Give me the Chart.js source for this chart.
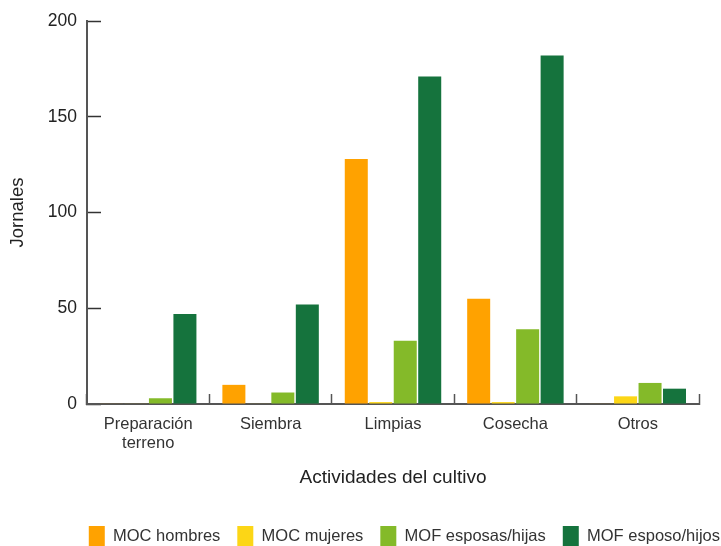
<!DOCTYPE html>
<html>
<head>
<meta charset="utf-8">
<script src="https://cdn.jsdelivr.net/npm/chart.js@4.4.1/dist/chart.umd.min.js"></script>
<style>
  html, body { margin: 0; padding: 0; background: #ffffff; overflow: hidden; }
  #wrap { width: 721px; height: 546px; position: relative; }
</style>
</head>
<body>
<div id="wrap"><canvas id="chart"></canvas></div>
<script>
// Jornales por actividad del cultivo
const categories = [['Preparación', 'terreno'], 'Siembra', 'Limpias', 'Cosecha', 'Otros'];
const mocHombres = [0.3, 10, 128, 55, 0.3];
const mocMujeres = [0.3, 0.3, 1, 1, 4];
const mofEsposasHijas = [3, 6, 33, 39, 11];
const mofEsposoHijos = [47, 52, 171, 182, 8];
const yTicks = [0, 50, 100, 150, 200];

const seriesNames = ['MOC hombres', 'MOC mujeres', 'MOF esposas/hijas', 'MOF esposo/hijos'];
const seriesColors = ['#FFA200', '#FCD616', '#84BA29', '#15733D'];
const seriesValues = [mocHombres, mocMujeres, mofEsposasHijas, mofEsposoHijos];

const FONT = "'Liberation Sans', Arial, sans-serif";
const AXIS = '#555555';

new Chart(document.getElementById('chart'), {
  type: 'bar',
  data: {
    labels: categories,
    datasets: seriesNames.map((name, i) => ({
      label: name,
      data: seriesValues[i],
      backgroundColor: seriesColors[i],
      borderWidth: 0,
      barPercentage: 0.94,
      categoryPercentage: 0.8
    }))
  },
  options: {
    responsive: true,
    maintainAspectRatio: false,
    animation: false,
    devicePixelRatio: 1,
    layout: { padding: { top: 21, right: -16, bottom: -10, left: 0 } },
    plugins: {
      tooltip: { enabled: false },
      legend: {
        position: 'bottom',
        align: 'end',
        labels: {
          boxWidth: 16,
          boxHeight: 20,
          padding: 17,
          color: '#333333',
          font: { family: FONT, size: 16.5 }
        }
      }
    },
    scales: {
      x: {
        offset: true,
        grid: {
          display: true,
          offset: true,
          drawOnChartArea: false,
          tickLength: -10,
          tickColor: AXIS,
          tickWidth: 1.5,
          color: AXIS
        },
        border: { display: true, color: AXIS, width: 2 },
        ticks: {
          padding: 21,
          color: '#333333',
          font: { family: FONT, size: 16.5, lineHeight: 1.15 }
        },
        title: {
          display: true,
          text: 'Actividades del cultivo',
          color: '#222222',
          font: { family: FONT, size: 19 },
          padding: { top: 10, bottom: 19.5 }
        },
        afterFit(scale) { scale.height = 105; }
      },
      y: {
        min: 0,
        max: 200,
        afterBuildTicks(scale) { scale.ticks = yTicks.map(v => ({ value: v })); },
        grid: {
          display: true,
          drawOnChartArea: false,
          tickLength: -14,
          tickColor: '#333333',
          tickWidth: 1.5,
          color: AXIS
        },
        border: { display: true, color: AXIS, width: 2 },
        ticks: {
          padding: 24,
          color: '#222222',
          font: { family: FONT, size: 17.5 }
        },
        title: {
          display: true,
          text: 'Jornales',
          color: '#222222',
          font: { family: FONT, size: 18.5 },
          padding: { top: 6.5, bottom: 4 }
        },
        afterFit(scale) {
          scale.width = 87;
          // the tick padding only pushes labels left, keep the top/bottom margin to half a label
          scale.paddingTop = 10;
          scale.paddingBottom = 10;
        }
      },
      spacer: {
        position: 'right',
        display: true,
        grid: { display: false },
        border: { display: false },
        ticks: { display: false },
        afterFit(scale) { scale.width = 38; }
      }
    }
  }
});
</script>
</body>
</html>
